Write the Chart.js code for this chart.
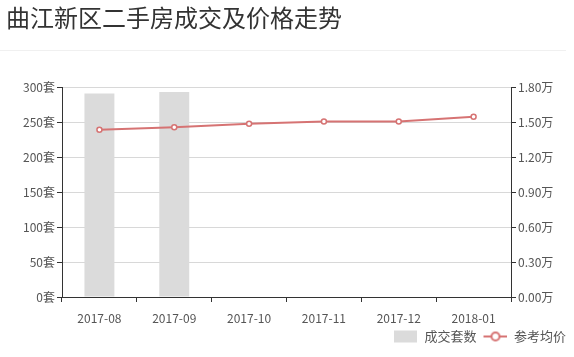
<!DOCTYPE html>
<html><head><meta charset="utf-8">
<script src="https://cdn.jsdelivr.net/npm/chart.js@4/dist/chart.umd.min.js"></script>
<style>html,body{margin:0;padding:0;background:#fff}#wrap{width:574px;height:357px;position:relative}</style>
</head><body><div id="wrap"><canvas id="c" width="574" height="357"></canvas></div>
<script>
const title = '曲江新区二手房成交及价格走势';
const categories = ['2017-08','2017-09','2017-10','2017-11','2017-12','2018-01'];
const dealCount = [292, 294, 0, 0, 0, 0];
const avgPrice = [1.44, 1.46, 1.49, 1.51, 1.51, 1.55];
const countTicks = [0, 50, 100, 150, 200, 250, 300];
const priceTicks = [0, 0.3, 0.6, 0.9, 1.2, 1.5, 1.8];
const seriesNames = ['成交套数', '参考均价'];

const BAR = '#dbdbdb', LINE = '#d67373';
const FONT = "'Noto Sans CJK SC', 'Noto Sans', sans-serif";

function mkIcon(kind){
  const c = document.createElement('canvas'); c.width = 28; c.height = 14;
  const x = c.getContext('2d');
  if(kind==='bar'){ x.fillStyle = BAR; x.fillRect(4,1,23,12); }
  else { x.strokeStyle = LINE; x.lineWidth = 2; x.beginPath(); x.moveTo(4,7); x.lineTo(28,7); x.stroke();
    x.fillStyle='#fff'; x.beginPath(); x.arc(16,7,4,0,Math.PI*2); x.fill(); x.stroke(); }
  return c;
}
const icons = [mkIcon('bar'), mkIcon('line')];

const sepLine = { id:'sep', beforeDraw(ch){ const g=ch.ctx; g.save(); g.strokeStyle='#f0f0f0'; g.lineWidth=1; g.beginPath(); g.moveTo(0,50.5); g.lineTo(566,50.5); g.stroke(); g.restore(); } };

new Chart(document.getElementById('c'), {
  data: {
    labels: categories,
    datasets: [
      { type:'line', label: seriesNames[1], data: avgPrice, yAxisID:'y1', borderColor: LINE, backgroundColor:'#fff',
        borderWidth: 2, pointRadius: 2.5, pointBorderWidth: 1.5, pointBackgroundColor:'#fff', pointBorderColor: LINE, order: 0, tension: 0 },
      { type:'bar', label: seriesNames[0], data: dealCount, yAxisID:'y', backgroundColor: BAR, barPercentage: 0.4, categoryPercentage: 1, order: 1 }
    ]
  },
  options: {
    responsive: false, animation: false, maintainAspectRatio: false,
    layout: { padding: { top: 0, bottom: 4, left: 6, right: 5 } },
    plugins: {
      title: { display: true, text: title, align: 'start', color: '#333', font: { family: FONT, size: 24, weight: 'normal' }, padding: { top: 3, bottom: 56 } },
      legend: { position: 'bottom', align: 'end', reverse: false,
        labels: { usePointStyle: true, pointStyleWidth: 28, boxHeight: 12, color: '#555', font: { family: FONT, size: 13 }, padding: 3,
          generateLabels(ch){ return [
            { text: seriesNames[0], pointStyle: icons[0], fillStyle: BAR, strokeStyle: BAR, lineWidth: 0, datasetIndex: 1, fontColor:'#555' },
            { text: seriesNames[1], pointStyle: icons[1], fillStyle: '#fff', strokeStyle: LINE, lineWidth: 0, datasetIndex: 0, fontColor:'#555' }
          ]; } } },
      tooltip: { enabled: false }
    },
    scales: {
      x: { type: 'category', offset: true,
        grid: { display: true, drawOnChartArea: false, offset: true, tickLength: 5, tickColor: '#333' },
        border: { color: '#333', width: 1 },
        ticks: { color: '#555', font: { family: FONT, size: 12 }, padding: 9, maxRotation: 0 },
        afterFit(s){ s.height = 30; } },
      y: { position: 'left', min: 0, max: 300, afterBuildTicks(s){ s.ticks = countTicks.map(v=>({value:v})); },
        grid: { color: '#d8d8d8', tickLength: 5, tickColor: '#333' },
        border: { color: '#333', width: 1 },
        ticks: { color: '#555', font: { family: FONT, size: 12 }, padding: 2, callback: v => v + '套' },
        afterFit(s){ s.width = 56; } },
      y1: { position: 'right', min: 0, max: 1.8, afterBuildTicks(s){ s.ticks = priceTicks.map(v=>({value:v})); },
        grid: { drawOnChartArea: false, tickLength: 5, tickColor: '#333' },
        border: { color: '#333', width: 1 },
        ticks: { color: '#555', font: { family: FONT, size: 12 }, padding: 2, callback: v => Number(v).toFixed(2) + '万' },
        afterFit(s){ s.width = 58; } }
    }
  },
  plugins: [sepLine]
});
</script></body></html>
